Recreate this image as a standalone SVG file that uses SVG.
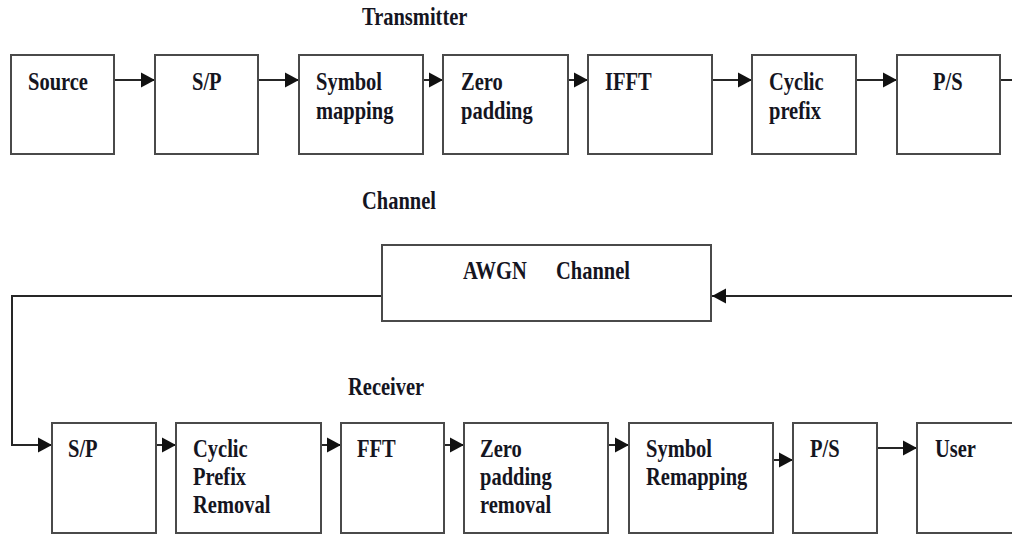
<svg xmlns="http://www.w3.org/2000/svg" width="1012" height="535" viewBox="0 0 1012 535">
<style>
.box{fill:#fff;stroke:#4a4a4a;stroke-width:2}
.wire{fill:none;stroke:#262626;stroke-width:2}
text{font-family:"Liberation Serif","Times New Roman",serif;font-weight:bold;font-size:20.5px;fill:#15151f}
</style>
<defs>
<marker id="ah" markerUnits="userSpaceOnUse" markerWidth="16" markerHeight="16" refX="14" refY="8" orient="auto">
<path d="M0,0.5 L14,8 L0,15.5 Z" fill="#111"/>
</marker>
</defs>
<rect width="1012" height="535" fill="#fff"/>

<g id="titles">
<text transform="translate(362 25) scale(1 1.18)">Transmitter</text>
<text transform="translate(362 209) scale(1 1.18)">Channel</text>
<text transform="translate(348 395) scale(1 1.18)">Receiver</text>
</g>

<g id="connectors">
<line class="wire" x1="114" y1="80" x2="155" y2="80" marker-end="url(#ah)"/>
<line class="wire" x1="258" y1="80" x2="299" y2="80" marker-end="url(#ah)"/>
<line class="wire" x1="423" y1="80" x2="443" y2="80" marker-end="url(#ah)"/>
<line class="wire" x1="568" y1="80" x2="588" y2="80" marker-end="url(#ah)"/>
<line class="wire" x1="712" y1="80" x2="752" y2="80" marker-end="url(#ah)"/>
<line class="wire" x1="856" y1="80" x2="897" y2="80" marker-end="url(#ah)"/>
<polyline class="wire" points="1000,80 1014,80 1014,296 712,296" marker-end="url(#ah)"/>
<polyline class="wire" points="382,296 12,296 12,445 52,445" marker-end="url(#ah)"/>
<line class="wire" x1="156" y1="445" x2="176" y2="445" marker-end="url(#ah)"/>
<line class="wire" x1="321" y1="445" x2="341" y2="445" marker-end="url(#ah)"/>
<line class="wire" x1="444" y1="445" x2="464" y2="445" marker-end="url(#ah)"/>
<line class="wire" x1="608" y1="445" x2="629" y2="445" marker-end="url(#ah)"/>
<line class="wire" x1="773" y1="460" x2="793" y2="460" marker-end="url(#ah)"/>
<line class="wire" x1="877" y1="448" x2="917" y2="448" marker-end="url(#ah)"/>
</g>

<g id="source">
<rect class="box" x="11" y="55" width="103" height="99"/>
<text transform="translate(28 90) scale(1 1.18)">Source</text>
</g>
<g id="tx-sp">
<rect class="box" x="155" y="55" width="103" height="99"/>
<text transform="translate(192 90) scale(1 1.18)">S/P</text>
</g>
<g id="symbol-mapping">
<rect class="box" x="299" y="55" width="124" height="99"/>
<text transform="translate(316 90) scale(1 1.18)"><tspan x="0" y="0">Symbol</tspan><tspan x="0" y="24.6">mapping</tspan></text>
</g>
<g id="zero-padding">
<rect class="box" x="443" y="55" width="125" height="99"/>
<text transform="translate(461 90) scale(1 1.18)"><tspan x="0" y="0">Zero</tspan><tspan x="0" y="24.6">padding</tspan></text>
</g>
<g id="ifft">
<rect class="box" x="588" y="55" width="124" height="99"/>
<text transform="translate(605 90) scale(1 1.18)">IFFT</text>
</g>
<g id="cyclic-prefix">
<rect class="box" x="752" y="55" width="104" height="99"/>
<text transform="translate(769 90) scale(1 1.18)"><tspan x="0" y="0">Cyclic</tspan><tspan x="0" y="24.6">prefix</tspan></text>
</g>
<g id="tx-ps">
<rect class="box" x="897" y="55" width="103" height="99"/>
<text transform="translate(933 90) scale(1 1.18)">P/S</text>
</g>

<g id="awgn">
<rect class="box" x="382" y="245" width="329" height="76"/>
<text transform="translate(463 279) scale(1 1.18)"><tspan x="0" y="0">AWGN</tspan><tspan x="93" y="0">Channel</tspan></text>
</g>

<g id="rx-sp">
<rect class="box" x="52" y="423" width="104" height="110"/>
<text transform="translate(68 457) scale(1 1.18)">S/P</text>
</g>
<g id="cp-removal">
<rect class="box" x="176" y="423" width="145" height="110"/>
<text transform="translate(193 457) scale(1 1.18)"><tspan x="0" y="0">Cyclic</tspan><tspan x="0" y="23.7">Prefix</tspan><tspan x="0" y="47.4">Removal</tspan></text>
</g>
<g id="fft">
<rect class="box" x="341" y="423" width="103" height="110"/>
<text transform="translate(357 457) scale(1 1.18)">FFT</text>
</g>
<g id="zp-removal">
<rect class="box" x="464" y="423" width="144" height="110"/>
<text transform="translate(480 457) scale(1 1.18)"><tspan x="0" y="0">Zero</tspan><tspan x="0" y="23.7">padding</tspan><tspan x="0" y="47.4">removal</tspan></text>
</g>
<g id="symbol-remapping">
<rect class="box" x="629" y="423" width="144" height="110"/>
<text transform="translate(646 457) scale(1 1.18)"><tspan x="0" y="0">Symbol</tspan><tspan x="0" y="23.7">Remapping</tspan></text>
</g>
<g id="rx-ps">
<rect class="box" x="793" y="423" width="84" height="110"/>
<text transform="translate(810 457) scale(1 1.18)">P/S</text>
</g>
<g id="user">
<rect class="box" x="917" y="423" width="100" height="110"/>
<text transform="translate(935 457) scale(1 1.18)">User</text>
</g>
</svg>
